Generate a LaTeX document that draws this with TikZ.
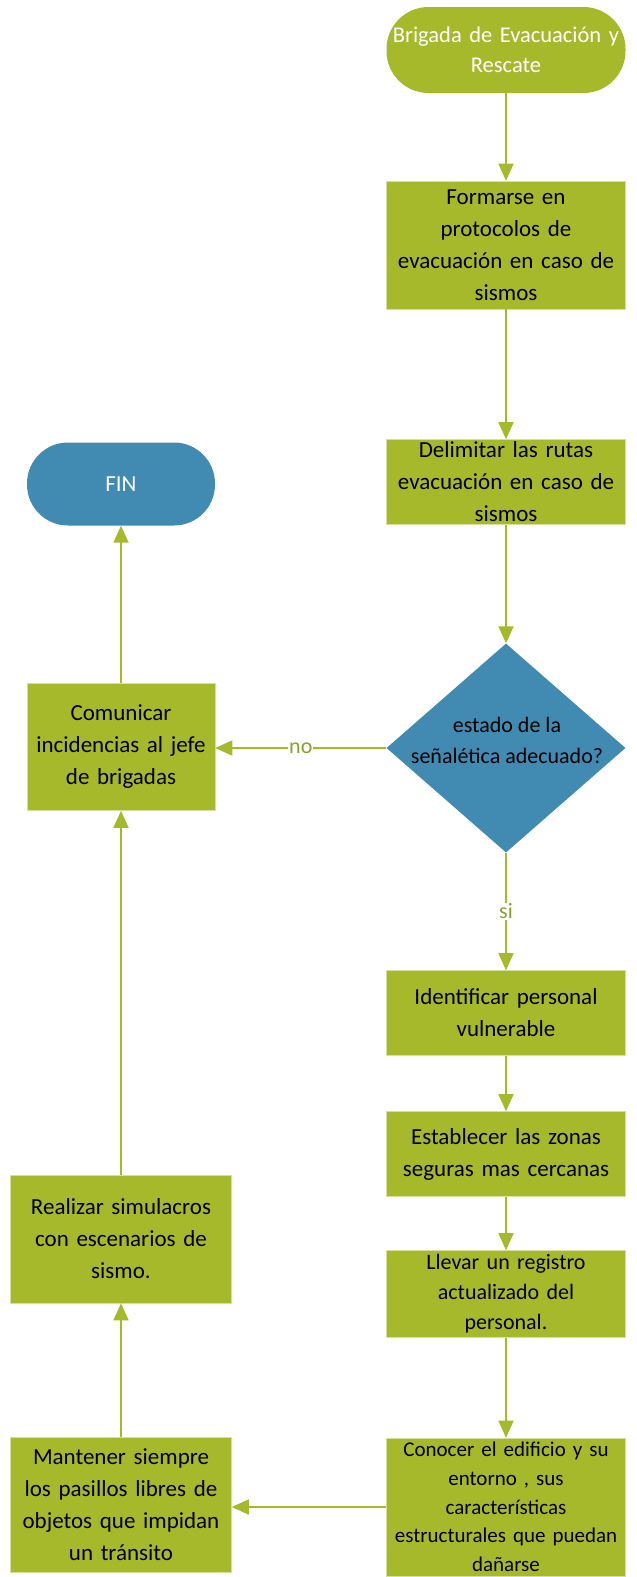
\documentclass[tikz,border=0pt]{standalone}
\usepackage{fontspec}
\setmainfont{Carlito}
\usetikzlibrary{arrows.meta,shapes.geometric}
\definecolor{Olive}{HTML}{A6B92B}
\definecolor{OliveInk}{HTML}{8FA02A}
\definecolor{Steel}{HTML}{418AB2}
\tikzset{
  stepbox/.style={rectangle, fill=Olive, draw=Olive!45!white, line width=0.6pt,
    inner sep=0pt, align=center, text=black, font=\fontsize{23}{32}\selectfont},
  endcap/.style={rectangle, inner sep=0pt, align=center, text=white},
  flow/.style={draw=Olive, line width=1.6pt, -{Triangle[width=15pt,length=17pt]}},
  flowtag/.style={fill=white, text=OliveInk, inner sep=1pt, font=\fontsize{22}{24}\selectfont},
}
\begin{document}
\begin{tikzpicture}[x=1pt, y=-1pt]
        \useasboundingbox (0,0) rectangle (637,1577);
        % right column
        \node[endcap, fill=Olive, rounded corners=42pt, minimum width=239pt, minimum height=86pt,
          text width=239pt, font=\fontsize{22.5}{30}\selectfont] (start) at (506,50)
          {Brigada de Evacuación y\\Rescate};
        \node[stepbox, minimum width=239pt, minimum height=128pt, text width=239pt] (formarse) at (506,245)
          {Formarse en\\protocolos de\\evacuación en caso de\\sismos};
        \node[stepbox, minimum width=239pt, minimum height=85pt, text width=239pt] (delimitar) at (506,482)
          {Delimitar las rutas\\evacuación en caso de\\sismos};
        \node[diamond, fill=Steel, aspect=1.14, minimum width=239pt, minimum height=209pt,
          inner sep=0pt] (check) at (506,748) {};
        \node[align=center, font=\fontsize{22}{31}\selectfont] (check-txt) at (507,740)
          {estado de la\\señalética adecuado?};
        \node[stepbox, minimum width=239pt, minimum height=85pt, text width=239pt] (identificar) at (506,1013)
          {Identificar personal\\vulnerable};
        \node[stepbox, minimum width=239pt, minimum height=85pt, text width=239pt] (establecer) at (506,1154)
          {Establecer las zonas\\seguras mas cercanas};
        \node[stepbox, minimum width=239pt, minimum height=87pt, text width=239pt,
          font=\fontsize{22}{30}\selectfont] (llevar) at (506,1294)
          {Llevar un registro\\actualizado del\\personal.};
        \node[stepbox, minimum width=239pt, minimum height=138pt, text width=239pt,
          font=\fontsize{21}{28.7}\selectfont] (conocer) at (506,1507)
          {Conocer el edificio y su\\entorno , sus\\características\\estructurales que puedan\\dañarse};
        % left column
        \node[endcap, fill=Steel, rounded corners=41pt, minimum width=188pt, minimum height=83pt,
          font=\fontsize{23}{32}\selectfont] (fin) at (121,484) {FIN};
        \node[stepbox, minimum width=188pt, minimum height=127pt, text width=188pt] (comunicar) at (121,747)
          {Comunicar\\incidencias al jefe\\de brigadas};
        \node[stepbox, minimum width=221pt, minimum height=128pt, text width=221pt] (realizar) at (121,1239)
          {Realizar simulacros\\con escenarios de\\sismo.};
        \node[stepbox, minimum width=221pt, minimum height=135pt, text width=221pt] (mantener) at (121,1505)
          {Mantener siempre\\los pasillos libres de\\objetos que impidan\\un tránsito};
        % connectors
        \foreach \a/\b in {start/formarse, formarse/delimitar, delimitar/check,
          identificar/establecer, establecer/llevar, llevar/conocer,
          mantener/realizar, realizar/comunicar, comunicar/fin}
          \draw[flow] (\a) -- (\b);
        \draw[flow] (check) -- node[flowtag] {si} (identificar);
        \draw[flow] (check.west) -- node[flowtag] {no} (check.west -| comunicar.east);
        \draw[flow] (conocer.west) -- (conocer.west -| mantener.east);
      \end{tikzpicture}
\end{document}
